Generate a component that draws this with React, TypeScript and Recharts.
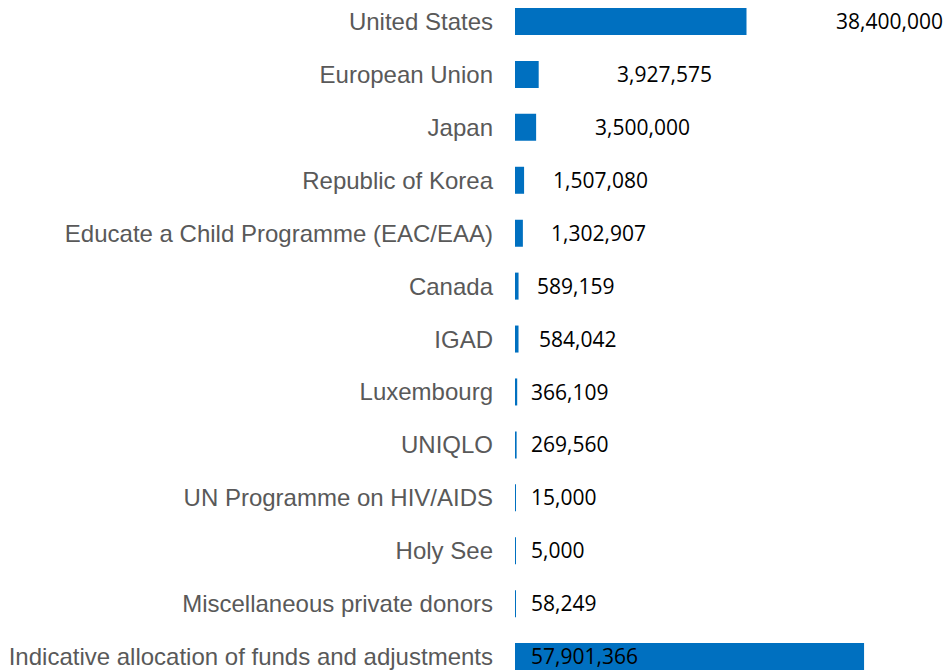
import React from "react";
import { BarChart, Bar, XAxis, YAxis, LabelList } from "recharts";

const donors = [
  "United States",
  "European Union",
  "Japan",
  "Republic of Korea",
  "Educate a Child Programme (EAC/EAA)",
  "Canada",
  "IGAD",
  "Luxembourg",
  "UNIQLO",
  "UN Programme on HIV/AIDS",
  "Holy See",
  "Miscellaneous private donors",
  "Indicative allocation of funds and adjustments",
];

const amounts = [
  38400000, 3927575, 3500000, 1507080, 1302907, 589159, 584042, 366109, 269560,
  15000, 5000, 58249, 57901366,
];

// data labels were dragged around by hand in the original; distance from the bar origin
const labelOffset = [321, 102, 80, 38, 36, 22, 24, 16, 16, 16, 16, 16, 16];

const chartData = donors.map((name, i) => ({ name, amount: amounts[i] }));

const fmt = new Intl.NumberFormat("en-US");

const ValueLabel = (props: any) => {
  const { x, y, height, index, value } = props;
  return (
    <text
      x={x + labelOffset[index]}
      y={y + height / 2}
      dy="0.36em"
      textAnchor="start"
      fill="#000000"
      style={{ fontFamily: "'Open Sans', sans-serif", fontSize: 21 }}
    >
      {fmt.format(value)}
    </text>
  );
};

const App: React.FC = () => {
  return (
    <div
      style={{
        position: "fixed",
        top: 0,
        left: 0,
        width: 947,
        height: 670,
        overflow: "hidden",
        background: "#ffffff",
      }}
    >
      <div style={{ marginTop: -5, marginLeft: 8 }}>
        <BarChart
          width={939}
          height={688}
          data={chartData}
          layout="vertical"
          margin={{ top: 0, right: 10, left: 0, bottom: 0 }}
        >
          <XAxis type="number" hide domain={[0, 70000000]} />
          <YAxis
            type="category"
            dataKey="name"
            width={507}
            axisLine={false}
            tickLine={false}
            tickMargin={16}
            interval={0}
            tick={{
              fill: "#595959",
              fontSize: 24,
              fontFamily: "'Liberation Sans', Arial, sans-serif",
            }}
          />
          <Bar
            dataKey="amount"
            fill="#0070C0"
            barSize={27}
            minPointSize={1}
            isAnimationActive={false}
          >
            <LabelList dataKey="amount" content={<ValueLabel />} />
          </Bar>
        </BarChart>
      </div>
    </div>
  );
};

export default App;
